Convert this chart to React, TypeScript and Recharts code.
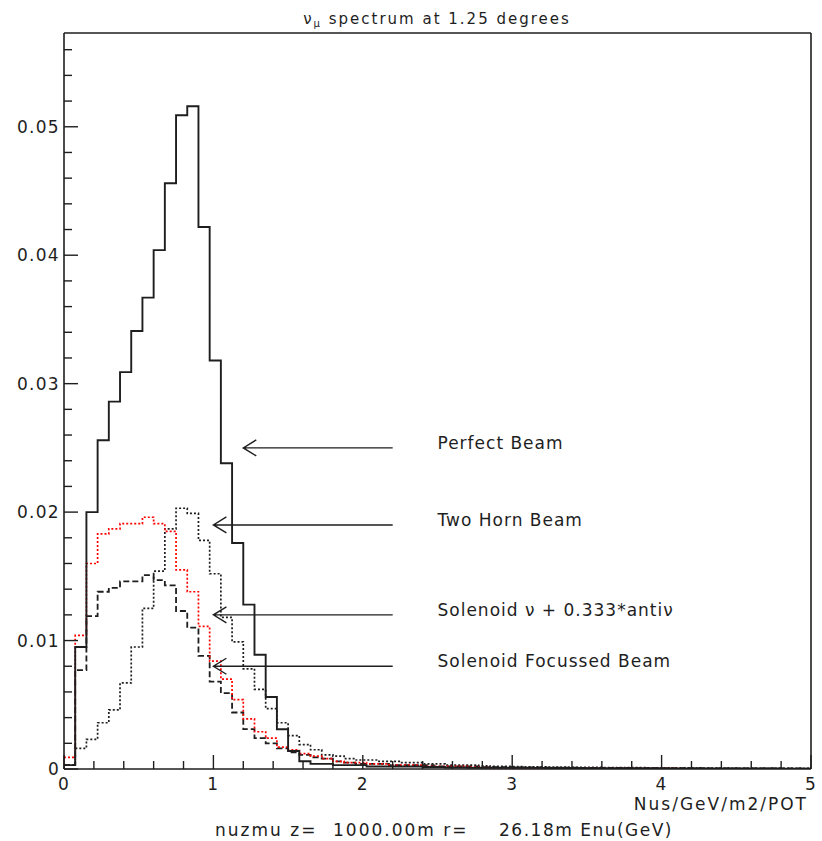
import { Line, LineChart, ReferenceDot, ReferenceLine, XAxis, YAxis } from "recharts";

// histogram bins are 0.075 GeV wide, starting at 0
const BIN_WIDTH = 0.075;
const X_MAX = 5;
const Y_MAX = 0.0573;

const perfectBeam = [
  0.0003, 0.0095, 0.02, 0.0256, 0.0286, 0.0309, 0.0341, 0.0367, 0.0404, 0.0456,
  0.0509, 0.0516, 0.0422, 0.0318, 0.0238, 0.0176, 0.0128, 0.0089, 0.0056, 0.0031,
  0.0014, 0.0006, 0.0004, 0.0004, 0.0003, 0.0003, 0.0003, 0.0002, 0.0002, 0.0002,
  0.0002, 0.0002, 0.00015, 0.00015, 0.00012, 0.00012, 0.0001, 0.0001, 0.0001, 0.0001,
  0.0001, 0.00009, 0.00009, 0.00008, 0.00008, 0.00008, 0.00007, 0.00007, 0.00007, 0.00006,
  0.00006, 0.00006, 0.00006, 0.00005, 0.00005, 0.00005, 0.00005, 0.00005, 0.00004, 0.00004,
  0.00004, 0.00004, 0.00004, 0.00004, 0.00003, 0.00003, 0.00003,
];

const twoHornBeam = [
  0.0003, 0.0016, 0.0023, 0.0036, 0.0046, 0.0067, 0.0095, 0.0125, 0.0154, 0.0187,
  0.0203, 0.0199, 0.0178, 0.0152, 0.0118, 0.0099, 0.0078, 0.0062, 0.0047, 0.0036,
  0.0026, 0.0019, 0.0015, 0.0011, 0.001, 0.0008, 0.0007, 0.0007, 0.0006, 0.0006,
  0.0005, 0.0005, 0.0004, 0.0004, 0.0003, 0.0003, 0.0003, 0.00025, 0.0002, 0.0002,
  0.00018, 0.00017, 0.00016, 0.00015, 0.00014, 0.00013, 0.00012, 0.00012, 0.00011, 0.0001,
  0.0001, 0.0001, 0.00009, 0.00009, 0.00008, 0.00008, 0.00008, 0.00007, 0.00007, 0.00007,
  0.00006, 0.00006, 0.00006, 0.00006, 0.00005, 0.00005, 0.00005,
];

const solenoidNuAnti = [
  0.0009, 0.0104, 0.016, 0.0183, 0.0187, 0.0191, 0.0191, 0.0196, 0.0191, 0.0185,
  0.0155, 0.0138, 0.0111, 0.0084, 0.007, 0.0054, 0.0039, 0.0029, 0.0024, 0.0017,
  0.0015, 0.0012, 0.001, 0.0008, 0.0006, 0.0005, 0.0005, 0.0004, 0.0004, 0.0003,
  0.0003, 0.0003, 0.0002, 0.0002, 0.0002, 0.0002, 0.00015, 0.0001, 0.00008, 0.00007,
  0.00006, 0.00006, 0.00005, 0.00005, 0.00005, 0.00004, 0.00004, 0.00004, 0.00004, 0.00003,
  0.00003, 0.00003, 0.00003, 0.00003, 0.00003, 0.00002, 0.00002, 0.00002, 0.00002, 0.00002,
  0.00002, 0.00002, 0.00002, 0.00002, 0.00001, 0.00001, 0.00001,
];

const solenoidFocussed = [
  0.0003, 0.0077, 0.0119, 0.0138, 0.0141, 0.0146, 0.0146, 0.0151, 0.0147, 0.0143,
  0.0123, 0.011, 0.0088, 0.0068, 0.0059, 0.0044, 0.0031, 0.0024, 0.002, 0.0016,
  0.0013, 0.0011, 0.0009, 0.0008, 0.0006, 0.0005, 0.0004, 0.0004, 0.0004, 0.0003,
  0.0003, 0.0003, 0.0003, 0.0002, 0.0002, 0.0002, 0.0002, 0.00015, 0.00015, 0.00014,
  0.00013, 0.00012, 0.00012, 0.00011, 0.0001, 0.0001, 0.00009, 0.00009, 0.00008, 0.00008,
  0.00008, 0.00007, 0.00007, 0.00007, 0.00006, 0.00006, 0.00006, 0.00005, 0.00005, 0.00005,
  0.00005, 0.00004, 0.00004, 0.00004, 0.00004, 0.00004, 0.00003,
];

const xTicks = [
  0, 0.2, 0.4, 0.6, 0.8, 1, 1.2, 1.4, 1.6, 1.8, 2, 2.2, 2.4, 2.6, 2.8, 3, 3.2, 3.4,
  3.6, 3.8, 4, 4.2, 4.4, 4.6, 4.8, 5,
];
const yTicks = [
  0, 0.002, 0.004, 0.006, 0.008, 0.01, 0.012, 0.014, 0.016, 0.018, 0.02, 0.022, 0.024,
  0.026, 0.028, 0.03, 0.032, 0.034, 0.036, 0.038, 0.04, 0.042, 0.044, 0.046, 0.048,
  0.05, 0.052, 0.054, 0.056,
];

const annotationLabels = ["Perfect Beam", "Two Horn Beam", "Solenoid ν + 0.333*antiν", "Solenoid Focussed Beam"];
const annotationY = [0.025, 0.019, 0.012, 0.008];
const annotationTipX = [1.2, 1.0, 1.0, 1.0];
const ARROW_START_X = 2.2;
const LABEL_X = 2.5;

const INK = "#1e1e1e";
const FONT = "'DejaVu Sans', sans-serif";

const data = perfectBeam.map((v, i) => ({
  x: +(i * BIN_WIDTH).toFixed(3),
  perfect: v,
  twoHorn: twoHornBeam[i],
  nuAnti: solenoidNuAnti[i],
  focussed: solenoidFocussed[i],
}));
// close the last bin at the right edge of the frame
const last = data[data.length - 1];
data.push({ ...last, x: X_MAX });

const XTick = (props: any) => {
  const { x, y, payload } = props;
  const v = payload.value;
  const major = Math.abs(v - Math.round(v)) < 1e-6;
  return (
    <g>
      <line x1={x} x2={x} y1={y} y2={y - (major ? 14 : 8)} stroke={INK} strokeWidth={1.4} />
      {major && (
        <text x={x} y={y + 21} textAnchor="middle" fontFamily={FONT} fontSize={17} letterSpacing={1.3} fill={INK}>
          {v}
        </text>
      )}
    </g>
  );
};

const YTick = (props: any) => {
  const { x, y, payload } = props;
  const v = payload.value;
  const major = Math.abs(v * 100 - Math.round(v * 100)) < 1e-6;
  return (
    <g>
      <line x1={x} x2={x + (major ? 14 : 8)} y1={y} y2={y} stroke={INK} strokeWidth={1.4} />
      {major && (
        <text x={x - 4} y={y + 6} textAnchor="end" fontFamily={FONT} fontSize={17} letterSpacing={1.3} fill={INK}>
          {v === 0 ? "0" : v.toFixed(2)}
        </text>
      )}
    </g>
  );
};

const Arrow = (props: any) => {
  const { x1, y1, x2, y2 } = props;
  return (
    <path
      d={`M${x1},${y1}L${x2},${y2}M${x2 + 13},${y2 - 8}L${x2},${y2}L${x2 + 13},${y2 + 8}`}
      fill="none"
      stroke={INK}
      strokeWidth={1.4}
    />
  );
};

export default function App() {
  return (
    <div style={{ position: "absolute", left: 0, top: 0, width: 822, height: 841, background: "#fff" }}>
      <LineChart width={822} height={841} data={data} margin={{ top: 33, right: 11, bottom: 42, left: 4 }}>
        <XAxis
          dataKey="x"
          type="number"
          domain={[0, X_MAX]}
          allowDataOverflow
          ticks={xTicks}
          interval={0}
          tick={<XTick />}
          tickLine={false}
          tickSize={0}
          tickMargin={0}
          height={30}
          axisLine={{ stroke: INK, strokeWidth: 1.6 }}
        />
        <YAxis
          type="number"
          domain={[0, Y_MAX]}
          allowDataOverflow
          ticks={yTicks}
          interval={0}
          tick={<YTick />}
          tickLine={false}
          tickSize={0}
          tickMargin={0}
          width={60}
          axisLine={{ stroke: INK, strokeWidth: 1.6 }}
        />
        {/* top and right sides of the frame */}
        <ReferenceLine y={Y_MAX} stroke={INK} strokeWidth={1.6} />
        <ReferenceLine x={X_MAX} stroke={INK} strokeWidth={1.6} />
        <Line type="stepAfter" dataKey="focussed" stroke={INK} strokeWidth={1.8} strokeDasharray="6 3" dot={false} isAnimationActive={false} />
        <Line type="stepAfter" dataKey="twoHorn" stroke={INK} strokeWidth={1.7} strokeDasharray="2 2" dot={false} isAnimationActive={false} />
        <Line type="stepAfter" dataKey="nuAnti" stroke="#ff0000" strokeWidth={1.7} strokeDasharray="2 2" dot={false} isAnimationActive={false} />
        <Line type="stepAfter" dataKey="perfect" stroke={INK} strokeWidth={1.9} dot={false} isAnimationActive={false} />
        {annotationLabels.map((label, i) => (
          <ReferenceLine
            key={`arrow-${i}`}
            segment={[
              { x: ARROW_START_X, y: annotationY[i] },
              { x: annotationTipX[i], y: annotationY[i] },
            ]}
            shape={<Arrow />}
          />
        ))}
        {annotationLabels.map((label, i) => (
          <ReferenceDot
            key={`label-${i}`}
            x={LABEL_X}
            y={annotationY[i]}
            r={0}
            shape={(p: any) => (
              <text x={p.cx} y={p.cy + 1} fontFamily={FONT} fontSize={17} letterSpacing={1} fill={INK}>
                {label}
              </text>
            )}
          />
        ))}
      </LineChart>
      <svg width={822} height={841} style={{ position: "absolute", left: 0, top: 0, pointerEvents: "none" }}>
        <text x={437} y={24} textAnchor="middle" fontFamily={FONT} fontSize={15} letterSpacing={2} fill={INK}>
          ν<tspan fontSize={10} dy={3}>μ</tspan>
          <tspan dy={-3}> spectrum at 1.25 degrees</tspan>
        </text>
        <text x={808} y={810} textAnchor="end" fontFamily={FONT} fontSize={17} letterSpacing={2} fill={INK}>
          Nus/GeV/m2/POT
        </text>
        <text x={215} y={836} fontFamily={FONT} fontSize={17} letterSpacing={2} fill={INK}>
          nuzmu z=
        </text>
        <text x={333} y={836} fontFamily={FONT} fontSize={17} letterSpacing={2} fill={INK}>
          1000.00m r=
        </text>
        <text x={673} y={836} textAnchor="end" fontFamily={FONT} fontSize={17} letterSpacing={1.5} fill={INK}>
          26.18m Enu(GeV)
        </text>
      </svg>
    </div>
  );
}
